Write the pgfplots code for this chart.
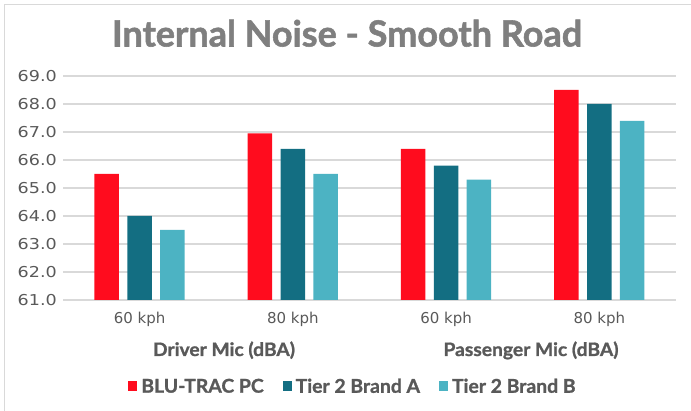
\documentclass[border=0pt]{standalone}
\usepackage{fontspec}
\setmainfont{Lato}
\newfontfamily\tickfont{DejaVu Sans}
\newfontfamily\ytickfont{DejaVu Sans}[FakeStretch=1.17]
\newfontfamily\heavy{Lato}[BoldFeatures={FakeBold=1.5}]
\newfontfamily\grpfont{Lato}[BoldFeatures={FakeBold=1.2,FakeStretch=1.04}]
\newfontfamily\legfont{Lato}[BoldFeatures={FakeBold=1.2,FakeStretch=1.02}]
\usepackage{pgfplots}
\pgfplotsset{compat=1.18}
\definecolor{cRed}{HTML}{FF0C1E}
\definecolor{cDark}{HTML}{136E82}
\definecolor{cLight}{HTML}{4CB3C3}
\definecolor{cText}{HTML}{595959}
\definecolor{cTitle}{HTML}{7F7F7F}
\definecolor{cGrid}{HTML}{D9D9D9}
\begin{document}
\begin{tikzpicture}[x=1pt,y=1pt]
\path[use as bounding box] (0,0) rectangle (691,411);
\draw[cGrid, line width=1.5pt] (4.5,0) -- (4.5,406.5) -- (691,406.5);
\node[anchor=base, font=\heavy\fontsize{36}{42}\selectfont\bfseries, text=cTitle, inner sep=0pt] at (347,364.5) {Internal Noise - Smooth Road};
\begin{axis}[
  at={(63pt,111pt)}, anchor=south west,
  scale only axis, width=613pt, height=224pt,
  xmin=-0.5, xmax=3.5, ymin=61, ymax=69,
  ytick={61,62,...,69},
  xtick={0,1,2,3},
  xticklabels={60 kph,80 kph,60 kph,80 kph},
  axis line style={draw=none},
  major tick length=0pt,
  ymajorgrids, grid style={cGrid, line width=1.3pt},
  /pgf/number format/.cd, fixed, fixed zerofill, precision=1, assume math mode=true,
  /pgfplots/.cd,
  yticklabel style={font=\ytickfont\fontsize{15}{18}\selectfont, text=cText, anchor=east, inner sep=0pt, xshift=-6pt},
  xticklabel style={font=\tickfont\fontsize{15}{18}\selectfont, text=cText, anchor=north, inner sep=0pt, yshift=-12pt},
  ybar, bar width=0.16,
  legend style={draw=none, fill=none, at={(0.4747,-0.386)}, anchor=center,
    legend columns=3, font=\legfont\fontsize{19}{22}\selectfont\bfseries, text=cText,
    /tikz/every even column/.append style={column sep=15pt},
    nodes={inner sep=4pt}},
  legend image code/.code={\fill[#1] (0pt,-5pt) rectangle (9pt,5pt);},
  clip=false,
]
\addplot[fill=cRed, draw=none, bar shift=-0.215] coordinates {(0,65.5) (1,66.95) (2,66.4) (3,68.5)};
\addplot[fill=cDark, draw=none, bar shift=0] coordinates {(0,64.0) (1,66.4) (2,65.8) (3,68.0)};
\addplot[fill=cLight, draw=none, bar shift=0.213] coordinates {(0,63.5) (1,65.5) (2,65.3) (3,67.4)};
\legend{BLU-TRAC PC, Tier 2 Brand A, Tier 2 Brand B}
\end{axis}
\node[anchor=base, font=\grpfont\fontsize{18.5}{22}\selectfont\bfseries, text=cText, inner sep=0pt] at (224,55) {Driver Mic (dBA)};
\node[anchor=base, font=\grpfont\fontsize{18.5}{22}\selectfont\bfseries, text=cText, inner sep=0pt] at (531,55) {Passenger Mic (dBA)};
\end{tikzpicture}
\end{document}
